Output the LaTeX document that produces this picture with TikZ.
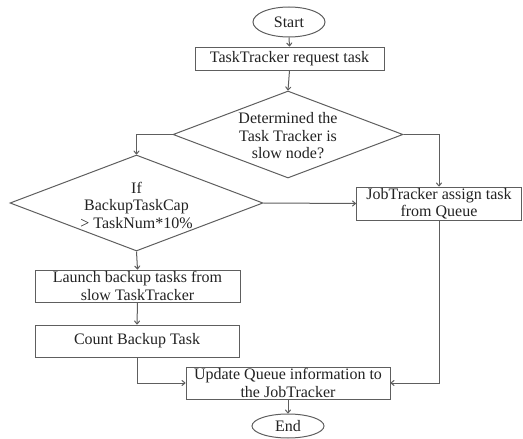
\documentclass[tikz,border=0pt]{standalone}
\usepackage{fontspec}
\setmainfont{Liberation Serif}
\usetikzlibrary{shapes.geometric,arrows.meta}
\definecolor{linegray}{HTML}{5E5E5E}
\definecolor{textgray}{HTML}{222222}
\begin{document}
\begin{tikzpicture}[x=1pt,y=-1pt,
  every node/.style={font=\fontsize{16}{17.5}\selectfont, text=textgray},
  box/.style={draw=linegray, line width=1pt, rectangle, inner sep=0pt, align=center},
  term/.style={draw=linegray, line width=1pt, ellipse, inner sep=0pt},
  dia/.style={draw=linegray, line width=1pt, diamond, inner sep=0pt},
  txt/.style={align=center, inner sep=0pt},
  conn/.style={draw=linegray, line width=1pt, -{To[length=4pt,width=6pt]}}
]
\useasboundingbox (0,0) rectangle (523,439);
\node[term, minimum width=72pt, minimum height=30pt] (start) at (289,22) {Start};
\node[box, minimum width=189pt, minimum height=23pt] (req) at (289.5,58.5) {TaskTracker request task};
\node[dia, minimum width=230pt, minimum height=87pt] (d1) at (288,134.5) {};
\node[txt] (d1t) at (288,136) {Determined the\\Task Tracker is\\slow node?};
\node[dia, minimum width=253pt, minimum height=96pt] (d2) at (136.5,203) {};
\node[txt] (d2t) at (136.5,205) {If\\BackupTaskCap\\> TaskNum*10\%};
\node[box, minimum width=165pt, minimum height=33pt] (job) at (439,203.5) {JobTracker assign task\\from Queue};
\node[box, minimum width=205pt, minimum height=32pt] (launch) at (137.5,286) {Launch backup tasks from\\slow TaskTracker};
\node[box, minimum width=204pt, minimum height=32pt] (count) at (137,341) {Count Backup Task};
\node[box, minimum width=204pt, minimum height=32pt] (update) at (288,383) {Update Queue information to\\the JobTracker};
\node[term, minimum width=72pt, minimum height=24pt] (end) at (288,426) {End};

\draw[conn] (start.south) -- (req.north);
\draw[conn] (req.south) -- (d1.north);
\draw[conn] (d1.east) -| (job.north);
\draw[conn] (d1.west) -| (d2.north);
\draw[conn] (d2.east) -- (job.west);
\draw[conn] (d2.south) -- (launch.north);
\draw[conn] (launch.south) -- (count.north);
\draw[conn] (count.south) |- (update.west);
\draw[conn] (job.south) |- (update.east);
\draw[conn] (update.south) -- (end.north);
\end{tikzpicture}
\end{document}
